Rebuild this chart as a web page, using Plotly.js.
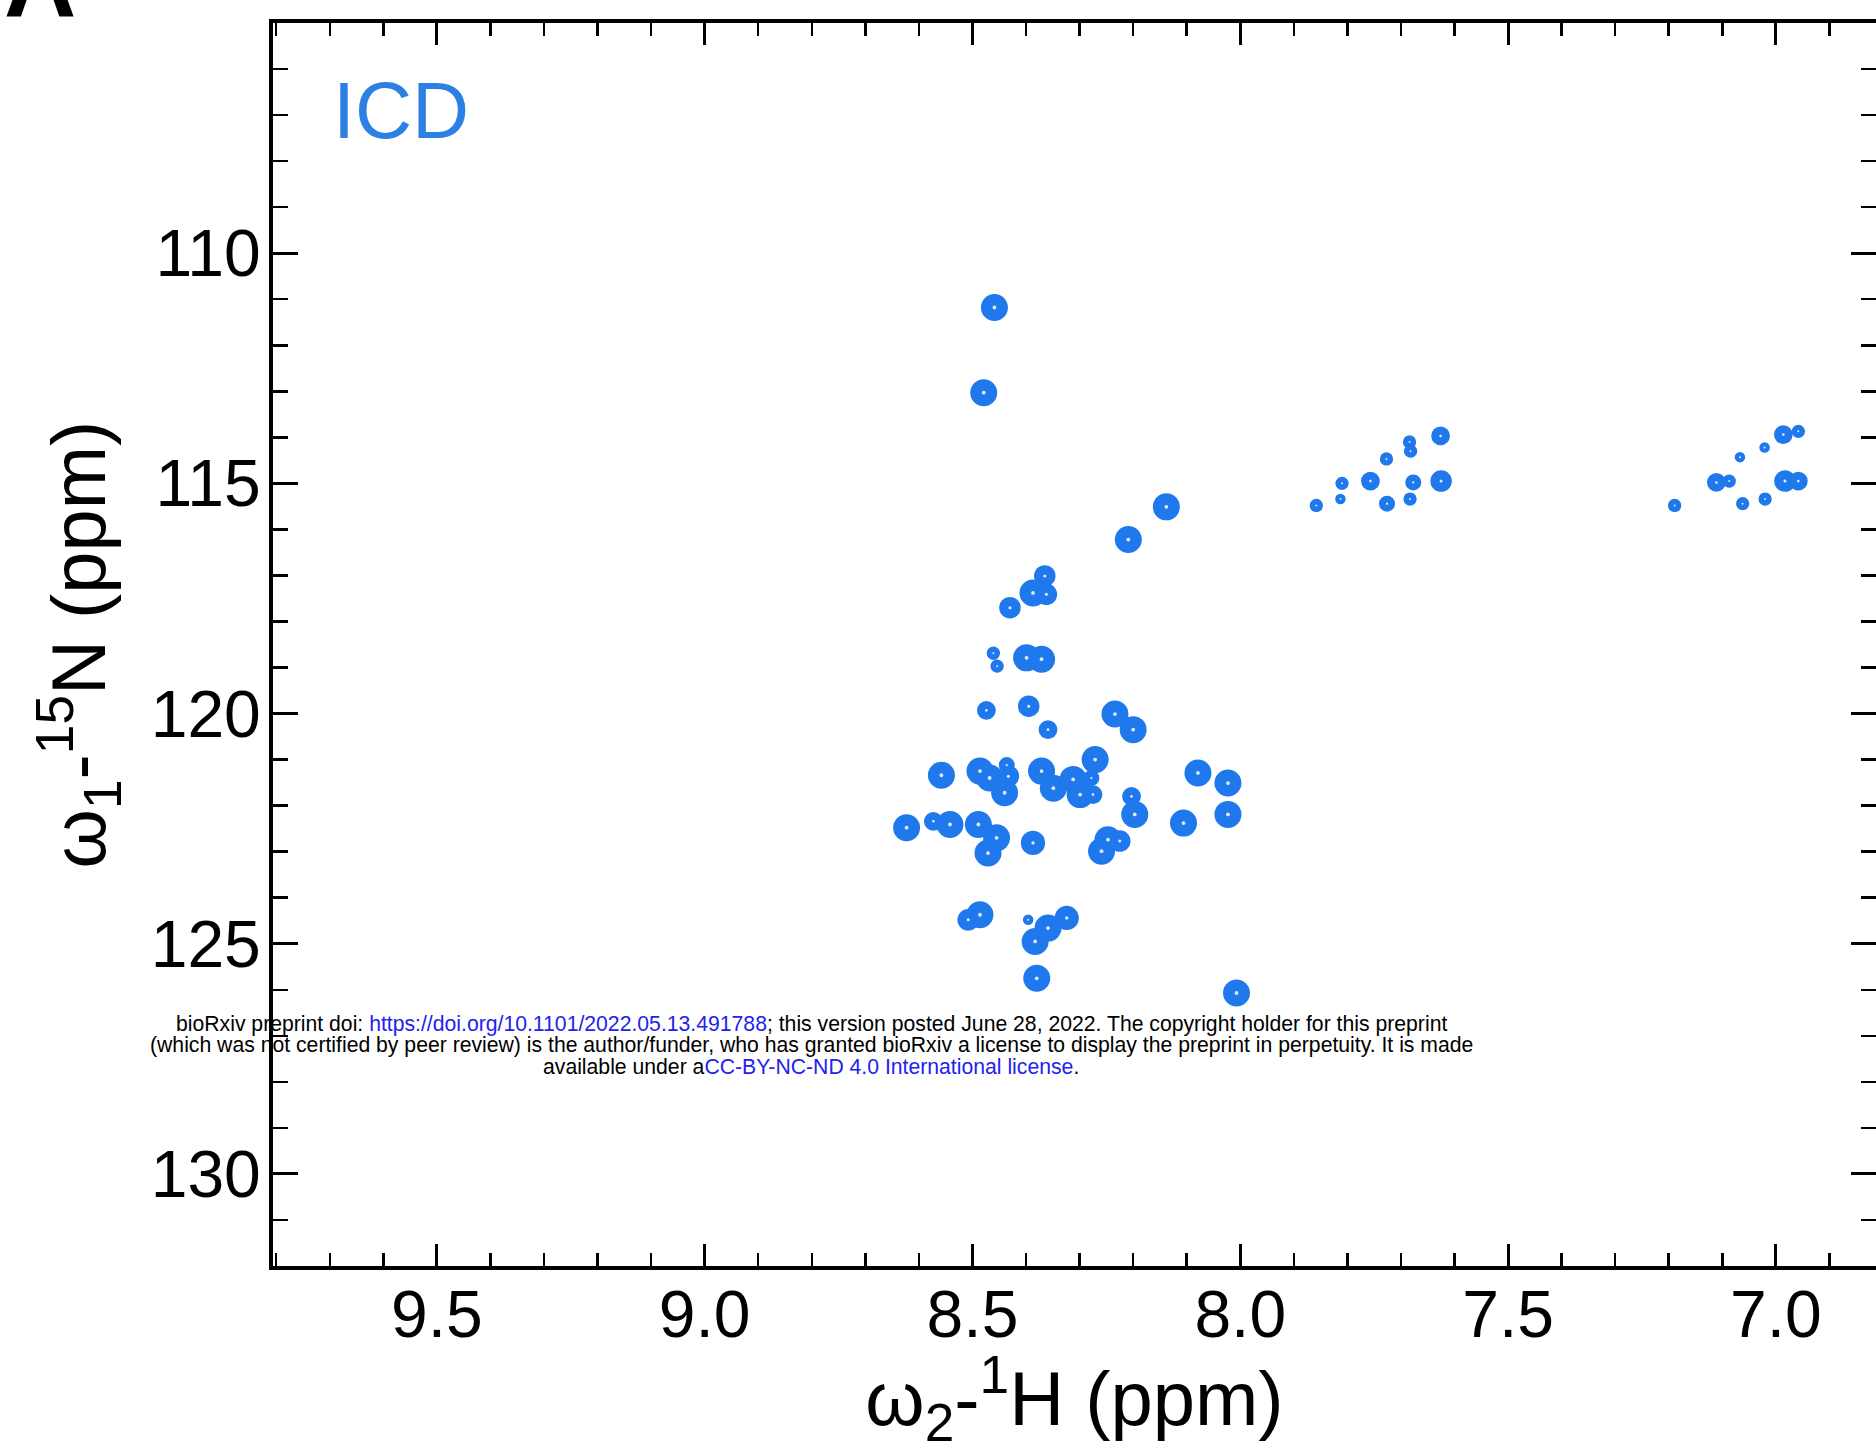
<!DOCTYPE html>
<html>
<head>
<meta charset="utf-8">
<script src="https://cdn.plot.ly/plotly-3.0.1.min.js"></script>
<style>html,body{margin:0;padding:0;background:#fff;}#chart{width:1876px;height:1452px;}</style>
</head>
<body>
<div id="chart"></div>
<script>
// 1H chemical shifts (ppm) of the peaks
var peakH = [8.459, 8.479, 8.138, 8.209, 8.365, 8.387, 8.362, 8.430, 8.461, 8.454,
             8.399, 8.371, 8.474, 8.395, 8.359, 8.234, 8.200, 8.271, 8.558, 8.486,
             8.468, 8.433, 8.440, 8.371, 8.349, 8.312, 8.299, 8.275, 8.278, 8.079,
             8.023, 8.203, 8.197, 8.106, 8.023, 8.623, 8.573, 8.542, 8.489, 8.455,
             8.471, 8.387, 8.247, 8.259, 8.225, 8.486, 8.508, 8.396, 8.383, 8.359,
             8.324, 8.380, 8.007, 8.436,
             7.858, 7.813, 7.810, 7.757, 7.727, 7.726, 7.684, 7.682, 7.677, 7.683,
             7.626, 7.625,
             7.189, 7.111, 7.087, 7.067, 7.062, 7.021, 7.020, 6.986, 6.958, 6.983, 6.958];
// 15N chemical shifts (ppm)
var peakN = [111.18, 113.03, 115.51, 116.22, 117.01, 117.38, 117.41, 117.70, 118.69, 118.97,
             118.79, 118.82, 119.93, 119.84, 120.35, 120.01, 120.35, 121.00, 121.34, 121.25,
             121.40, 121.36, 121.72, 121.25, 121.62, 121.43, 121.76, 121.76, 121.40, 121.29,
             121.51, 121.80, 122.19, 122.38, 122.19, 122.48, 122.34, 122.41, 122.41, 122.70,
             123.03, 122.81, 122.74, 122.99, 122.77, 124.37, 124.48, 124.48, 124.95, 124.66,
             124.44, 125.75, 126.07, 121.12,
             115.48, 115.34, 115.00, 114.95, 114.47, 115.44, 114.10, 114.30, 114.98, 115.34,
             113.97, 114.95,
             115.48, 114.98, 114.95, 114.43, 115.44, 114.22, 115.34, 113.94, 113.87, 114.95, 114.95];
// relative peak intensity (contour depth)
var peakIntensity = [4, 4, 4, 4, 3, 4, 3, 3, 1.5, 1.5,
                     4, 4, 2.5, 3, 2.5, 4, 4, 4, 4, 4,
                     4, 3, 4, 4, 4, 4, 4, 2.5, 2, 4,
                     4, 2.5, 4, 4, 4, 4, 2.5, 4, 4, 4,
                     4, 3.5, 4, 4, 3, 4, 3, 1, 4, 4,
                     3.5, 4, 4, 2,
                     1.5, 1, 1.5, 2.5, 1.5, 2, 1.5, 1.5, 2, 1.5,
                     2.5, 3,
                     1.5, 2.5, 1.5, 1, 1.5, 1, 1.5, 2.5, 1.5, 3, 2.5];

var xTickVals = [9.5, 9.0, 8.5, 8.0, 7.5, 7.0];
var xTickText = ['9.5', '9.0', '8.5', '8.0', '7.5', '7.0'];
var yTickVals = [110, 115, 120, 125, 130];
var yTickText = ['110', '115', '120', '125', '130'];

var watermarkLines = [
  'bioRxiv preprint doi: <span style="color:#2222ee">https://doi.org/10.1101/2022.05.13.491788</span>; this version posted June 28, 2022. The copyright holder for this preprint',
  '(which was not certified by peer review) is the author/funder, who has granted bioRxiv a license to display the preprint in perpetuity. It is made',
  'available under a<span style="color:#2222ee">CC-BY-NC-ND 4.0 International license</span>.'
];

var peakBlue = '#1F78EC';
var FONT = 'Liberation Sans, Arial, Helvetica, sans-serif';

var sizes = peakIntensity.map(function (v) { return 5 + 5.5 * v; });
var dotSizes = sizes.map(function (s) { return Math.max(2, s * 0.14); });

var traces = [
  {
    type: 'scatter', mode: 'markers', x: peakH, y: peakN,
    marker: {symbol: 'circle', size: sizes, color: peakBlue, opacity: 1, line: {width: 0}},
    hoverinfo: 'skip', showlegend: false
  },
  {
    type: 'scatter', mode: 'markers', x: peakH, y: peakN,
    marker: {symbol: 'circle', size: dotSizes, color: 'rgba(255,255,255,0.85)', opacity: 1, line: {width: 0}},
    hoverinfo: 'skip', showlegend: false
  }
];

var W = 1876, H = 1452;
var L = 273, R = 0, T = 23, B = 1452 - 1266;
var pw = W - L - R, ph = H - T - B;
function px2paperX(px) { return (px - L) / pw; }
function px2paperY(py) { return 1 - (py - T) / ph; }

var annotations = [
  {
    xref: 'paper', yref: 'paper', x: px2paperX(331), y: px2paperY(110),
    xanchor: 'left', yanchor: 'middle', showarrow: false,
    text: 'ICD', font: {family: FONT, size: 79, color: '#2D80E3'}
  },
  {
    xref: 'paper', yref: 'paper', x: px2paperX(2), y: px2paperY(40),
    xanchor: 'left', yanchor: 'bottom', showarrow: false,
    text: '<b>A</b>', font: {family: FONT, size: 100, color: '#000'}
  }
];
var lineY = [1024, 1045, 1066];
watermarkLines.forEach(function (t, i) {
  annotations.push({
    xref: 'paper', yref: 'paper', x: px2paperX(811), y: px2paperY(lineY[i]),
    xanchor: 'center', yanchor: 'middle', align: 'center', showarrow: false,
    text: t, font: {family: FONT, size: 21.2, color: '#000'}
  });
});

var layout = {
  width: W, height: H,
  margin: {l: L, r: R, t: T, b: B, pad: 0},
  paper_bgcolor: '#ffffff', plot_bgcolor: '#ffffff',
  showlegend: false,
  font: {family: FONT, color: '#000'},
  xaxis: {
    range: [9.806, 6.813],
    tickvals: xTickVals, ticktext: xTickText,
    ticks: 'inside', ticklen: 22, tickwidth: 3, tickcolor: '#000',
    minor: {dtick: 0.1, tick0: 7.0, ticks: 'inside', ticklen: 13, tickwidth: 2.5, tickcolor: '#000', showgrid: false},
    showline: true, linewidth: 4, linecolor: '#000', mirror: 'ticks',
    showgrid: false, zeroline: false,
    tickfont: {family: FONT, size: 66, color: '#000'},
    ticklabelstandoff: -12,
    title: {text: 'ω<sub>2</sub>-<sup>1</sup>H (ppm)', font: {family: FONT, size: 76, color: '#000'}, standoff: 86}
  },
  yaxis: {
    range: [132, 105],
    tickvals: yTickVals, ticktext: yTickText,
    ticks: 'inside', ticklen: 25, tickwidth: 3, tickcolor: '#000',
    minor: {dtick: 1, tick0: 105, ticks: 'inside', ticklen: 15, tickwidth: 2.5, tickcolor: '#000', showgrid: false},
    showline: true, linewidth: 4, linecolor: '#000', mirror: 'ticks',
    showgrid: false, zeroline: false,
    tickfont: {family: FONT, size: 66, color: '#000'},
    ticklabelstandoff: -5,
    title: {text: 'ω<sub>1</sub>-<sup>15</sup>N (ppm)', font: {family: FONT, size: 76, color: '#000'}, standoff: 21}
  },
  annotations: annotations
};

Plotly.newPlot('chart', traces, layout, {displayModeBar: false, staticPlot: true});
</script>
</body>
</html>
